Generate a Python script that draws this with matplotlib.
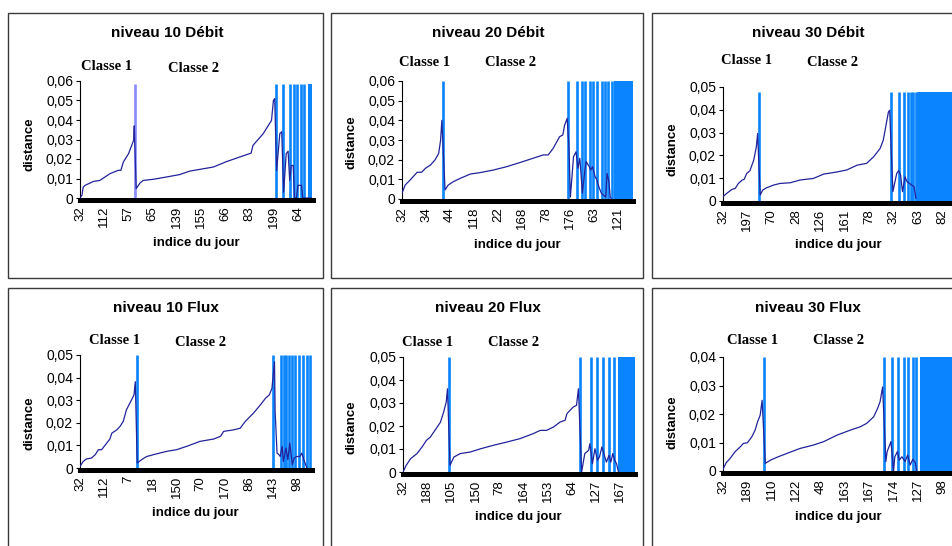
import matplotlib
matplotlib.use("Agg")
import matplotlib.pyplot as plt
from matplotlib.patches import Rectangle
from matplotlib.ticker import FuncFormatter

W, H = 953, 546
LINE_BLUE = "#0a84ff"
CURVE_NAVY = "#23239a"
N_DAYS = 365
TICK_STEP = 38

# ---- data (x = rank of the day, y = distance) ----
p1_x = [0, 3, 5, 8, 21, 31, 47, 60, 64, 68, 76, 81, 84, 85,
        88, 94, 99, 115, 136, 156, 172, 188, 209, 229, 250, 268, 271, 287, 300, 303, 305,
        308, 313, 316, 319, 323, 326, 328.5, 331, 334, 336, 339, 341.5, 347, 349, 362]
p1_y = [0, 0.0014, 0.0056, 0.0065, 0.0085, 0.009, 0.0125, 0.0142, 0.0142, 0.0185, 0.0227, 0.027, 0.0296, 0.037,
        0.0048, 0.0077, 0.009, 0.0096, 0.0108, 0.012, 0.0138, 0.0147, 0.0159, 0.0186, 0.021, 0.023, 0.027, 0.033, 0.0398, 0.05, 0.051,
        0.014, 0.033, 0.034, 0.003, 0.0227, 0.024, 0.009, 0.0167, 0.0167, 0, 0, 0.0065, 0.0065, 0, 0]
p1_bounds = [86, 306.6, 317.5, 329, 334.8, 340.4, 346.2, 351.4]
p1_block = [357, 363]
p1_labels = ["32", "112", "57", "65", "139", "155", "66", "83", "199", "64"]

p2_x = [0, 5, 13, 24, 31, 37, 45, 52, 58, 61, 63,
        68, 73, 81, 92, 108, 123, 144, 165, 186, 207, 223, 231, 239, 249, 254, 257, 261,
        264, 266, 268, 271, 275, 278, 281, 285, 289, 291, 296, 298, 301, 305, 308, 311, 315, 318, 322, 324, 327, 329, 331]
p2_y = [0.0029, 0.0071, 0.0097, 0.0136, 0.0136, 0.0156, 0.0173, 0.0198, 0.0232, 0.03, 0.040,
        0.0046, 0.0071, 0.0088, 0.0105, 0.0127, 0.0134, 0.0147, 0.0164, 0.0185, 0.0207, 0.0224, 0.0224, 0.0258, 0.0317, 0.0325, 0.0376, 0.041,
        0.025, 0.001, 0.0088, 0.0215, 0.024, 0.0156, 0.0207, 0.003, 0.0147, 0.019, 0.0164, 0.0147, 0.0164, 0.0114, 0.0097, 0.0063, 0.0029, 0.002, 0.001, 0.013, 0.0088, 0.001, 0]
p2_bounds = [65.3, 262.8, 277, 284, 289, 297, 302, 308.6, 315.5, 320.7, 326, 331.3]
p2_block = [335, 365]
p2_labels = ["32", "34", "44", "118", "22", "168", "78", "176", "63", "121"]

p3_x = [0, 6, 14, 19, 24, 30, 33, 37, 42, 48, 52, 54,
        58, 62, 68, 79, 89, 105, 120, 141, 157, 177, 193, 209, 224, 235, 245, 250, 258, 260,
        265, 271, 274, 277, 280, 284, 287, 291, 294, 298, 301]
p3_y = [0.0019, 0.0034, 0.0051, 0.0055, 0.0077, 0.0092, 0.0095, 0.0121, 0.0133, 0.018, 0.0238, 0.0296,
        0.0026, 0.0048, 0.0058, 0.007, 0.0077, 0.008, 0.0092, 0.0099, 0.0118, 0.0127, 0.0136, 0.0157, 0.0165, 0.0194, 0.023, 0.0267, 0.039, 0.0398,
        0.0041, 0.0121, 0.0133, 0.0114, 0.0041, 0.0106, 0.0085, 0.0077, 0.007, 0.0063, 0.0012]
p3_bounds = [55.5, 261.6, 275, 282.3, 288, 292.7, 296.9, 301]
p3_block = [303, 365]
p3_labels = ["32", "197", "70", "28", "126", "161", "78", "32", "63", "82"]

p4_x = [0, 5, 10, 18, 24, 29, 34, 42, 47, 50, 58, 63, 68, 73, 81, 85, 87,
        90, 97, 105, 121, 137, 152, 168, 189, 210, 221, 226, 242, 252, 260, 273, 284, 292, 298, 302,
        306, 307, 310, 313, 315, 318, 320, 324, 327, 330, 334, 337, 341, 346, 349, 353, 357]
p4_y = [0.0007, 0.0029, 0.004, 0.0044, 0.0059, 0.0081, 0.0081, 0.011, 0.0128, 0.0154, 0.0169, 0.0184, 0.0206, 0.0257, 0.0301, 0.0324, 0.0382,
        0.0022, 0.0037, 0.0051, 0.0063, 0.0074, 0.0081, 0.0096, 0.0118, 0.0128, 0.014, 0.0162, 0.0169, 0.0176, 0.0206, 0.0243, 0.028, 0.0309, 0.0324, 0.0353,
        0.047, 0.025, 0.0066, 0.0059, 0.0051, 0.0096, 0.0029, 0.0088, 0.0037, 0.011, 0.0015, 0.0044, 0.0051, 0.0051, 0.0066, 0.0029, 0]
p4_bounds = [89.3, 303.5, 316.2, 320.4, 324.6, 328.8, 333.5, 338.7, 344, 350.8, 357.1, 361.3]
p4_block = None
p4_labels = ["32", "112", "7", "18", "150", "70", "170", "86", "143", "98"]

p5_x = [0, 5, 12, 22, 30, 37, 43, 51, 59, 64, 68, 70,
        74, 80, 90, 106, 122, 142, 163, 184, 205, 216, 226, 237, 247, 255, 258, 268, 273, 276,
        281, 286, 292, 294, 298, 302, 306, 309, 313, 316, 320, 324, 327, 330, 333, 336, 339]
p5_y = [0, 0.0029, 0.0058, 0.008, 0.0109, 0.0138, 0.0152, 0.0184, 0.0217, 0.0261, 0.0304, 0.0362,
        0.0029, 0.0065, 0.008, 0.0087, 0.0101, 0.0116, 0.013, 0.0145, 0.0167, 0.0181, 0.0181, 0.0196, 0.0217, 0.0225, 0.0254, 0.0283, 0.029, 0.0362,
        0, 0.008, 0.0094, 0.0123, 0.0036, 0.0101, 0.0051, 0.0065, 0.0109, 0.008, 0.0043, 0.0072, 0.0043, 0.008, 0.0051, 0.0036, 0]
p5_bounds = [72.8, 278.6, 295.4, 304.8, 315.3, 324.7, 332]
p5_block = [338.8, 365]
p5_labels = ["32", "188", "105", "150", "78", "164", "153", "64", "127", "167"]

p6_x = [0, 5, 11, 19, 27, 32, 38, 45, 50, 54, 58, 61,
        66, 74, 84, 100, 120, 141, 157, 178, 198, 214, 224, 235, 241, 245, 249,
        254, 256, 262, 266, 268, 272, 275, 279, 284, 288, 292, 296, 300, 302]
p6_y = [0.0006, 0.0029, 0.0044, 0.0068, 0.0085, 0.0097, 0.0099, 0.012, 0.0143, 0.0173, 0.0196, 0.0248,
        0.0027, 0.0038, 0.0048, 0.0062, 0.0079, 0.0091, 0.0103, 0.0126, 0.0143, 0.0155, 0.0167, 0.019, 0.0219, 0.0243, 0.0295,
        0.0033, 0.0068, 0.0103, 0, 0.005, 0.0068, 0.0038, 0.005, 0.0033, 0.0056, 0.0021, 0.0041, 0.0029, 0]
p6_bounds = [63.3, 251.7, 264.2, 273.3, 282.3, 289, 295.8, 301]
p6_block = [307.2, 365]
p6_labels = ["32", "189", "110", "122", "48", "163", "167", "174", "127", "98"]

titles = ["niveau 10 Débit", "niveau 20 Débit", "niveau 30 Débit",
          "niveau 10 Flux", "niveau 20 Flux", "niveau 30 Flux"]
y_max = [0.06, 0.06, 0.05, 0.05, 0.05, 0.04]
line_top = [0.0585, 0.06, 0.048, 0.05, 0.05, 0.04]

panels = [
    (p1_x, p1_y, p1_bounds, p1_block, p1_labels),
    (p2_x, p2_y, p2_bounds, p2_block, p2_labels),
    (p3_x, p3_y, p3_bounds, p3_block, p3_labels),
    (p4_x, p4_y, p4_bounds, p4_block, p4_labels),
    (p5_x, p5_y, p5_bounds, p5_block, p5_labels),
    (p6_x, p6_y, p6_bounds, p6_block, p6_labels),
]

# ---- layout in pixels of the original picture ----
borders = [(8, 13, 323, 278), (331, 13, 643, 278), (652, 13, 967, 278),
           (8, 288, 323, 553), (331, 288, 643, 553), (652, 288, 967, 553)]
plot_boxes = [(80, 81, 313, 198), (402, 81, 633, 199), (723, 87, 957, 201),
              (80, 355, 312, 468), (403, 357, 635, 472), (723, 357, 957, 471)]
title_pos = [(167, 33), (488, 33), (808, 33), (166, 308), (488, 308), (808, 308)]
classe1_pos = [(107, 67), (425, 62), (747, 61), (115, 341), (428, 342), (753, 340)]
classe2_pos = [(194, 68), (511, 62), (833, 62), (201, 342), (514, 343), (839, 341)]
ylabel_pos = [(30, 144), (352, 142), (672, 149), (30, 423), (352, 427), (672, 422)]
xlabel_pos = [(196, 243), (517, 245), (838, 245), (195, 513), (518, 517), (838, 517)]

SANS = "Liberation Sans"
SERIF = "Liberation Serif"


def fx(px):
    return px / W


def fy(py):
    return 1 - py / H


def comma_fmt(v, _):
    if abs(v) < 1e-9:
        return "0"
    return f"{v:.2f}".replace(".", ",")


fig = plt.figure(figsize=(W / 100, H / 100), dpi=100)
fig.patch.set_facecolor("white")

for i, (xs, ys, bounds, block, labels) in enumerate(panels):
    # panel frame
    bx0, by0, bx1, by1 = borders[i]
    fig.patches.append(Rectangle((fx(bx0), fy(by1)), (bx1 - bx0) / W, (by1 - by0) / H,
                                 transform=fig.transFigure, fill=False,
                                 edgecolor="#3a3a3a", linewidth=1.0, zorder=0))

    x0, y0, x1, y1 = plot_boxes[i]
    ax = fig.add_axes([fx(x0), fy(y1), (x1 - x0) / W, (y1 - y0) / H])
    ax.set_xlim(0, N_DAYS)
    ax.set_ylim(0, y_max[i])

    # class separators
    first_color = "#8a8aff" if i == 0 else LINE_BLUE
    ax.vlines(bounds[:1], 0, line_top[i], color=first_color, linewidth=1.9, zorder=2)
    ax.vlines(bounds[1:], 0, line_top[i], color=LINE_BLUE, linewidth=1.9, zorder=2)
    if block is not None:
        ax.fill_between(block, 0, line_top[i], color=LINE_BLUE, linewidth=0, zorder=2)

    ax.plot(xs, ys, color=CURVE_NAVY, linewidth=0.9, zorder=3)

    # axes styling (Excel like)
    for side in ("top", "right"):
        ax.spines[side].set_visible(False)
    ax.spines["left"].set_linewidth(0.8)
    ax.spines["bottom"].set_linewidth(3.6)
    ax.spines["bottom"].set_position(("outward", 1.6))
    ax.spines["bottom"].set_zorder(4)

    ax.set_yticks([k * 0.01 for k in range(int(round(y_max[i] / 0.01)) + 1)])
    ax.yaxis.set_major_formatter(FuncFormatter(comma_fmt))
    ax.tick_params(axis="y", direction="out", length=3, width=0.8, pad=2, labelsize=10)
    for t in ax.get_yticklabels():
        t.set_fontfamily(SANS)

    ax.set_xticks([k * TICK_STEP for k in range(len(labels))])
    ax.set_xticklabels(labels, rotation=90, fontsize=9.5, fontfamily=SANS)
    ax.tick_params(axis="x", length=0, pad=4)

    # texts
    tx, ty = title_pos[i]
    fig.text(fx(tx), fy(ty), titles[i], ha="center", va="center",
             fontsize=11, fontweight="bold", fontfamily=SANS)
    cx, cy = classe1_pos[i]
    fig.text(fx(cx), fy(cy), "Classe 1", ha="center", va="center",
             fontsize=10.5, fontweight="bold", fontfamily=SERIF)
    cx, cy = classe2_pos[i]
    fig.text(fx(cx), fy(cy), "Classe 2", ha="center", va="center",
             fontsize=10.5, fontweight="bold", fontfamily=SERIF)
    lx, ly = ylabel_pos[i]
    fig.text(fx(lx), fy(ly), "distance", ha="center", va="center", rotation=90,
             fontsize=9.5, fontweight="bold", fontfamily=SANS)
    lx, ly = xlabel_pos[i]
    fig.text(fx(lx), fy(ly), "indice du jour", ha="center", va="center",
             fontsize=9.5, fontweight="bold", fontfamily=SANS)

fig.savefig("out.png", dpi=100, facecolor="white")
